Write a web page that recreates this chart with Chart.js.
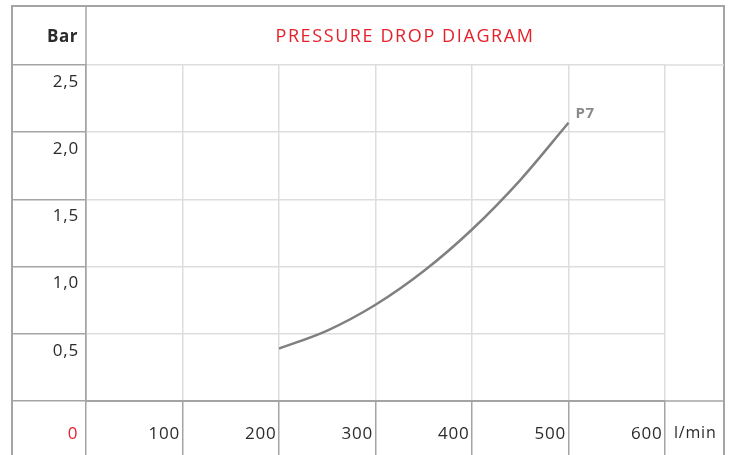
<!DOCTYPE html>
<html>
<head>
<meta charset="utf-8">
<script src="https://cdn.jsdelivr.net/npm/chart.js@4.4.0/dist/chart.umd.min.js"></script>
<style>
  html, body { margin: 0; padding: 0; background: #fff; }
  canvas { display: block; }
</style>
</head>
<body>
<canvas id="myChart" width="731" height="455"></canvas>
<script>
// data
const flowValues = [200, 250, 300, 350, 400, 450, 500];
const pressureValues = [0.39, 0.524, 0.716, 0.967, 1.276, 1.644, 2.07];
const xTicks = [0, 100, 200, 300, 400, 500, 600];
const yTicks = [0, 0.5, 1.0, 1.5, 2.0, 2.5];
const seriesName = "P7";
const chartTitle = "PRESSURE DROP DIAGRAM";
const yUnit = "Bar";
const xUnit = "l/min";

const RED = "#e5212b";
const TEXT = "#2b2b2b";
const LIGHT = "#dddddd";
const DARK = "#a4a4a4";
const FONT = "'Open Sans', sans-serif";

// outer table frame (the chart area sits inside it)
const tableLeft = 12, tableTop = 6, tableRight = 724;

const tableFrame = {
  id: "tableFrame",
  beforeDraw(chart) {
    // the original font is wider, so open the letters up a bit
    chart.ctx.letterSpacing = "0.8px";
  },
  afterDraw(chart) {
    const { ctx, chartArea: a, height } = chart;
    ctx.save();
    ctx.lineCap = "butt";

    // outer border
    ctx.strokeStyle = DARK;
    ctx.lineWidth = 2;
    ctx.beginPath();
    ctx.moveTo(tableLeft, height);
    ctx.lineTo(tableLeft, tableTop);
    ctx.lineTo(tableRight, tableTop);
    ctx.lineTo(tableRight, height);
    ctx.stroke();

    // left column divider through the header row
    ctx.lineWidth = 1.5;
    ctx.beginPath();
    ctx.moveTo(a.left, tableTop);
    ctx.lineTo(a.left, a.top);
    ctx.stroke();

    // unit column: bottom line
    ctx.beginPath();
    ctx.moveTo(a.right, a.bottom);
    ctx.lineTo(tableRight, a.bottom);
    ctx.stroke();

    // header line over the unit column
    ctx.strokeStyle = LIGHT;
    ctx.beginPath();
    ctx.moveTo(a.right, a.top);
    ctx.lineTo(tableRight, a.top);
    ctx.stroke();

    // header texts
    ctx.textBaseline = "middle";
    ctx.letterSpacing = "0.5px";
    ctx.fillStyle = TEXT;
    ctx.font = "bold 17px " + FONT;
    ctx.textAlign = "right";
    ctx.fillText(yUnit, 78, 37);

    ctx.letterSpacing = "1.6px";
    ctx.fillStyle = RED;
    ctx.font = "18px " + FONT;
    ctx.textAlign = "center";
    ctx.fillText(chartTitle, (a.left + tableRight) / 2, 37);

    // x unit in the bottom row
    ctx.letterSpacing = "0.8px";
    ctx.fillStyle = TEXT;
    ctx.font = "16px " + FONT;
    ctx.textAlign = "left";
    ctx.fillText(xUnit, a.right + 9, 433);

    // series label next to the end of the curve
    const meta = chart.getDatasetMeta(0);
    const last = meta.data[meta.data.length - 1];
    ctx.letterSpacing = "0.5px";
    ctx.fillStyle = "#8a8a8a";
    ctx.font = "bold 15px " + FONT;
    ctx.fillText(seriesName, last.x + 7, last.y - 9);
    ctx.restore();
  }
};

const ctx = document.getElementById("myChart").getContext("2d");
const myChart = new Chart(ctx, {
  type: "line",
  data: {
    datasets: [
      {
        label: seriesName,
        data: flowValues.map((q, i) => ({ x: q, y: pressureValues[i] })),
        borderColor: "#808081",
        borderWidth: 2.5,
        pointRadius: 0,
        cubicInterpolationMode: "monotone",
        fill: false,
      },
    ],
  },
  options: {
    responsive: false,
    animation: false,
    layout: { padding: { left: tableLeft, top: 65, right: 66, bottom: 0 } },
    plugins: {
      legend: { display: false },
      tooltip: { enabled: false },
      title: { display: false },
    },
    scales: {
      x: {
        type: "linear",
        min: 0,
        max: 600,
        afterBuildTicks: (s) => { s.ticks = xTicks.map((v) => ({ value: v })); },
        afterFit: (s) => { s.height = 54; },
        border: { display: true, color: DARK, width: 2 },
        grid: {
          color: (c) => (c.tick && c.tick.value === 0 ? DARK : LIGHT),
          lineWidth: 1.5,
          tickColor: DARK,
          tickLength: 54,
        },
        ticks: {
          align: "end",
          labelOffset: -2.5,
          padding: -31,
          maxRotation: 0,
          autoSkip: false,
          font: { family: FONT, size: 17 },
          color: (c) => (c.tick && c.tick.value === 0 ? RED : TEXT),
          callback: (v) => (v === 0 ? "0\u00a0" : String(v)),
        },
      },
      y: {
        min: 0,
        max: 2.5,
        afterBuildTicks: (s) => { s.ticks = yTicks.map((v) => ({ value: v })); },
        afterFit: (s) => { s.width = 74; },
        border: { display: true, color: DARK, width: 1.5 },
        grid: {
          color: LIGHT,
          lineWidth: 1.5,
          tickColor: DARK,
          tickLength: 74,
        },
        ticks: {
          padding: -67,
          labelOffset: 17,
          font: { family: FONT, size: 17 },
          color: TEXT,
          callback: (v) => (v === 0 ? "" : v.toFixed(1).replace(".", ",")),
        },
      },
    },
  },
  plugins: [tableFrame],
});
</script>
</body>
</html>
